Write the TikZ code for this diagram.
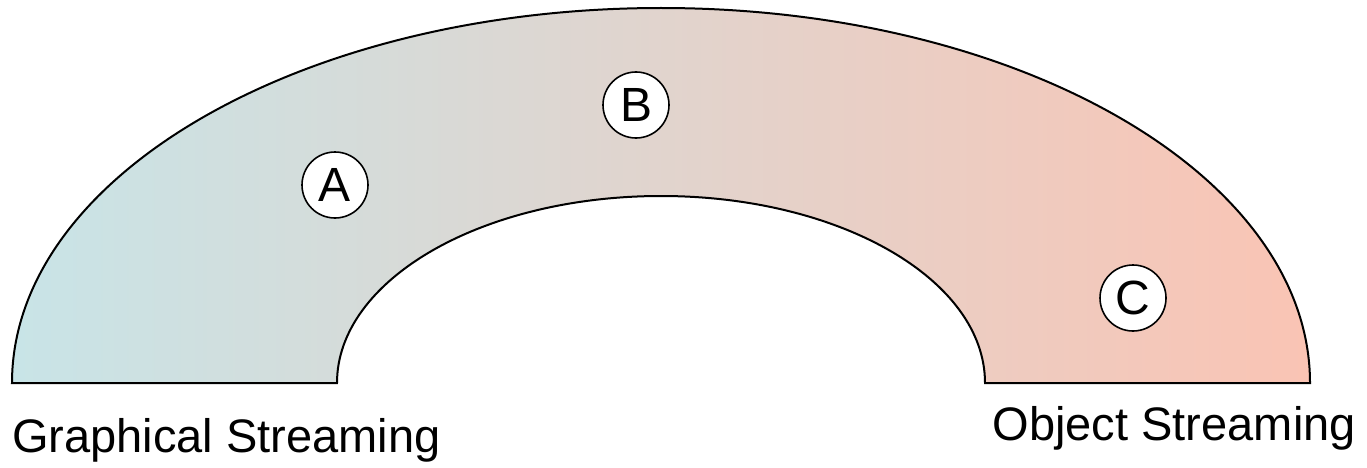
\documentclass[tikz,border=0pt]{standalone}
\usepackage{fontspec}
\setmainfont{Liberation Sans}
\definecolor{leftc}{RGB}{200,228,231}
\definecolor{rightc}{RGB}{250,196,180}
\begin{document}
\begin{tikzpicture}[x=1pt,y=1pt,
  letter/.style={circle,draw=black,fill=white,line width=1.6pt,minimum size=66pt,inner sep=0pt,font=\fontsize{48}{52}\selectfont},
  label/.style={inner sep=0pt,font=\fontsize{47}{56}\selectfont}]
\useasboundingbox (0,0) rectangle (1367,467);
\shade[left color=leftc,right color=rightc,draw=black,line width=2pt,line join=miter]
  (12,84) arc[start angle=180,end angle=0,x radius=649,y radius=375]
  -- (985,84) arc[start angle=0,end angle=180,x radius=324,y radius=187] -- cycle;
\node[letter] (A) at (335,282) {A};
\node[letter] (B) at (636,362) {B};
\node[letter] (C) at (1133,169) {C};
\node[label,anchor=base west] (G) at (12,15) {Graphical Streaming};
\node[label,anchor=base east] (O) at (1356,27) {Object Streaming};
\end{tikzpicture}
\end{document}
